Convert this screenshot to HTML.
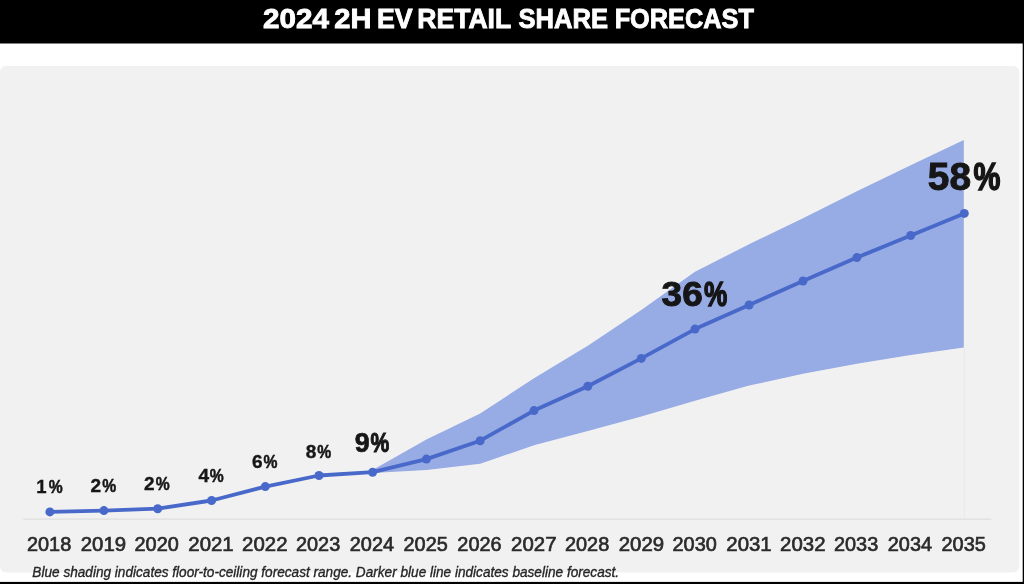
<!DOCTYPE html>
<html lang="en">
<head>
<meta charset="utf-8">
<title>2024 2H EV Retail Share Forecast</title>
<style>
html,body{margin:0;padding:0;background:#fff;}
body{width:1024px;height:584px;overflow:hidden;position:relative;font-family:"Liberation Sans",sans-serif;}
svg{position:absolute;left:0;top:0;display:block;}
text{font-family:"Liberation Sans",sans-serif;}
.title{font-weight:700;font-size:28.0px;fill:#fff;stroke:#fff;stroke-width:0.9px;}
.yr{font-size:19.5px;fill:#2b2b2b;stroke:#2b2b2b;stroke-width:0.65px;}
.dl{font-size:18.5px;font-weight:700;fill:#151515;stroke:#151515;stroke-width:.4px;}
.fn{font-size:14.6px;font-style:italic;fill:#262626;stroke:#262626;stroke-width:.35px;}
</style>
</head>
<body>
<svg width="1024" height="584" viewBox="0 0 1024 584">
  <defs>
    <filter id="soft" filterUnits="userSpaceOnUse" x="-40" y="-40" width="1104" height="664"><feGaussianBlur stdDeviation="0.55"/></filter>
    <filter id="soft2" filterUnits="userSpaceOnUse" x="-40" y="-40" width="1104" height="664"><feGaussianBlur stdDeviation="0.5"/></filter>
  </defs>
  <rect x="0" y="0" width="1024" height="584" fill="#ffffff"/>
  <g filter="url(#soft)">
    <rect x="0" y="66" width="1019.3" height="506.6" rx="6" ry="6" fill="#f1f1f1"/>
    <rect x="-20" y="-20" width="1064" height="63.5" fill="#000"/>
    <rect x="1022.7" y="-20" width="20" height="624" fill="#000"/>
    <rect x="-20" y="581.9" width="1064" height="20" fill="#000"/>
  </g>
  <g filter="url(#soft2)"><text class="title" y="28.3"><tspan x="263.09" textLength="65.87" lengthAdjust="spacingAndGlyphs">2024</tspan> <tspan x="334.31" textLength="37.10" lengthAdjust="spacingAndGlyphs">2H</tspan> <tspan x="376.94" textLength="35.65" lengthAdjust="spacingAndGlyphs">EV</tspan> <tspan x="417.26" textLength="93.46" lengthAdjust="spacingAndGlyphs">RETAIL</tspan> <tspan x="518.54" textLength="89.54" lengthAdjust="spacingAndGlyphs">SHARE</tspan> <tspan x="614.64" textLength="139.31" lengthAdjust="spacingAndGlyphs">FORECAST</tspan></text></g>
  <g filter="url(#soft)">
    <line x1="23.3" y1="519.1" x2="991.3" y2="519.1" stroke="#e3e3e3" stroke-width="1.8"/>
    <line x1="964.3" y1="347" x2="964.3" y2="519" stroke="#e9e9e9" stroke-width="1"/>
    <polygon fill="#97abe4" points="372.6,469.9 426.4,439.5 480.2,413.4 534.0,378.3 587.8,345.8 641.3,310.0 695.0,271.8 749.1,244.2 803.0,218.3 856.9,191.2 910.7,165.2 963.8,139.9 963.8,347.4 910.7,355.0 856.9,363.8 803.0,373.8 749.1,385.6 695.0,400.8 641.3,416.5 587.8,431.1 534.0,445.3 480.2,463.8 426.4,470.0 372.6,473.0"/>
    <polyline fill="none" stroke="#4969ca" stroke-width="3.8" stroke-linejoin="round" stroke-linecap="round" points="49.9,511.9 103.9,510.6 157.7,508.7 211.6,500.5 265.3,486.6 319.0,475.5 372.6,472.2 426.4,459.1 480.2,440.7 534.0,410.6 587.8,386.2 641.3,358.4 695.0,329.1 749.1,305.0 803.0,281.0 856.9,257.6 910.7,235.5 964.3,213.4"/>
    <g fill="#4969ca"><circle cx="49.9" cy="511.9" r="4.5"/><circle cx="103.9" cy="510.6" r="4.5"/><circle cx="157.7" cy="508.7" r="4.5"/><circle cx="211.6" cy="500.5" r="4.5"/><circle cx="265.3" cy="486.6" r="4.5"/><circle cx="319.0" cy="475.5" r="4.5"/><circle cx="372.6" cy="472.2" r="4.5"/><circle cx="426.4" cy="459.1" r="4.5"/><circle cx="480.2" cy="440.7" r="4.5"/><circle cx="534.0" cy="410.6" r="4.5"/><circle cx="587.8" cy="386.2" r="4.5"/><circle cx="641.3" cy="358.4" r="4.5"/><circle cx="695.0" cy="329.1" r="4.5"/><circle cx="749.1" cy="305.0" r="4.5"/><circle cx="803.0" cy="281.0" r="4.5"/><circle cx="856.9" cy="257.6" r="4.5"/><circle cx="910.7" cy="235.5" r="4.5"/><circle cx="964.3" cy="213.4" r="4.5"/></g>
    <text class="dl" y="493.3"><tspan x="36.35" textLength="10.30" lengthAdjust="spacingAndGlyphs" stroke-width="0.35">1</tspan><tspan x="48.75" textLength="13.93" lengthAdjust="spacingAndGlyphs" stroke-width="0.50">%</tspan></text>
    <text class="dl" y="491.9"><tspan x="90.53" textLength="10.61" lengthAdjust="spacingAndGlyphs" stroke-width="0.35">2</tspan><tspan x="102.20" textLength="13.93" lengthAdjust="spacingAndGlyphs" stroke-width="0.50">%</tspan></text>
    <text class="dl" y="489.6"><tspan x="144.09" textLength="10.61" lengthAdjust="spacingAndGlyphs" stroke-width="0.35">2</tspan><tspan x="155.75" textLength="13.93" lengthAdjust="spacingAndGlyphs" stroke-width="0.50">%</tspan></text>
    <text class="dl" y="482.4"><tspan x="198.60" textLength="10.61" lengthAdjust="spacingAndGlyphs" stroke-width="0.35">4</tspan><tspan x="209.75" textLength="13.93" lengthAdjust="spacingAndGlyphs" stroke-width="0.50">%</tspan></text>
    <text class="dl" y="467.8"><tspan x="251.94" textLength="10.61" lengthAdjust="spacingAndGlyphs" stroke-width="0.35">6</tspan><tspan x="263.60" textLength="13.93" lengthAdjust="spacingAndGlyphs" stroke-width="0.50">%</tspan></text>
    <text class="dl" y="457.5"><tspan x="305.69" textLength="10.61" lengthAdjust="spacingAndGlyphs" stroke-width="0.35">8</tspan><tspan x="317.35" textLength="13.93" lengthAdjust="spacingAndGlyphs" stroke-width="0.50">%</tspan></text>
    <text class="dl" style="font-size:27.2px" y="451.6"><tspan x="354.76" textLength="14.90" lengthAdjust="spacingAndGlyphs" stroke-width="0.69">9</tspan><tspan x="370.58" textLength="18.71" lengthAdjust="spacingAndGlyphs" stroke-width="1.11">%</tspan></text>
    <text class="dl" style="font-size:34.5px" y="306.0"><tspan x="661.56" textLength="41.17" lengthAdjust="spacingAndGlyphs" stroke-width="0.88">36</tspan><tspan x="704.04" textLength="23.28" lengthAdjust="spacingAndGlyphs" stroke-width="1.40">%</tspan></text>
    <text class="dl" style="font-size:38.5px" y="190.0"><tspan x="927.88" textLength="43.17" lengthAdjust="spacingAndGlyphs" stroke-width="0.98">58</tspan><tspan x="973.49" textLength="26.90" lengthAdjust="spacingAndGlyphs" stroke-width="1.56">%</tspan></text>
    <text class="yr" y="551.2"><tspan x="26.95" textLength="44.27" lengthAdjust="spacingAndGlyphs">2018</tspan></text>
    <text class="yr" y="551.2"><tspan x="80.73" textLength="45.35" lengthAdjust="spacingAndGlyphs">2019</tspan></text>
    <text class="yr" y="551.2"><tspan x="134.55" textLength="44.27" lengthAdjust="spacingAndGlyphs">2020</tspan></text>
    <text class="yr" y="551.2"><tspan x="188.33" textLength="45.35" lengthAdjust="spacingAndGlyphs">2021</tspan></text>
    <text class="yr" y="551.2"><tspan x="242.13" textLength="45.35" lengthAdjust="spacingAndGlyphs">2022</tspan></text>
    <text class="yr" y="551.2"><tspan x="295.95" textLength="44.27" lengthAdjust="spacingAndGlyphs">2023</tspan></text>
    <text class="yr" y="551.2"><tspan x="349.75" textLength="44.27" lengthAdjust="spacingAndGlyphs">2024</tspan></text>
    <text class="yr" y="551.2"><tspan x="403.55" textLength="44.27" lengthAdjust="spacingAndGlyphs">2025</tspan></text>
    <text class="yr" y="551.2"><tspan x="457.35" textLength="44.27" lengthAdjust="spacingAndGlyphs">2026</tspan></text>
    <text class="yr" y="551.2"><tspan x="511.13" textLength="45.35" lengthAdjust="spacingAndGlyphs">2027</tspan></text>
    <text class="yr" y="551.2"><tspan x="564.95" textLength="44.27" lengthAdjust="spacingAndGlyphs">2028</tspan></text>
    <text class="yr" y="551.2"><tspan x="618.73" textLength="45.35" lengthAdjust="spacingAndGlyphs">2029</tspan></text>
    <text class="yr" y="551.2"><tspan x="672.55" textLength="44.27" lengthAdjust="spacingAndGlyphs">2030</tspan></text>
    <text class="yr" y="551.2"><tspan x="726.33" textLength="45.35" lengthAdjust="spacingAndGlyphs">2031</tspan></text>
    <text class="yr" y="551.2"><tspan x="780.13" textLength="45.35" lengthAdjust="spacingAndGlyphs">2032</tspan></text>
    <text class="yr" y="551.2"><tspan x="833.95" textLength="44.27" lengthAdjust="spacingAndGlyphs">2033</tspan></text>
    <text class="yr" y="551.2"><tspan x="887.75" textLength="44.27" lengthAdjust="spacingAndGlyphs">2034</tspan></text>
    <text class="yr" y="551.2"><tspan x="941.55" textLength="44.27" lengthAdjust="spacingAndGlyphs">2035</tspan></text>
    <text class="fn" y="577.4"><tspan x="32.37" textLength="586.72" lengthAdjust="spacingAndGlyphs">Blue shading indicates floor-to-ceiling forecast range. Darker blue line indicates baseline forecast.</tspan></text>
  </g>
</svg>
</body>
</html>
